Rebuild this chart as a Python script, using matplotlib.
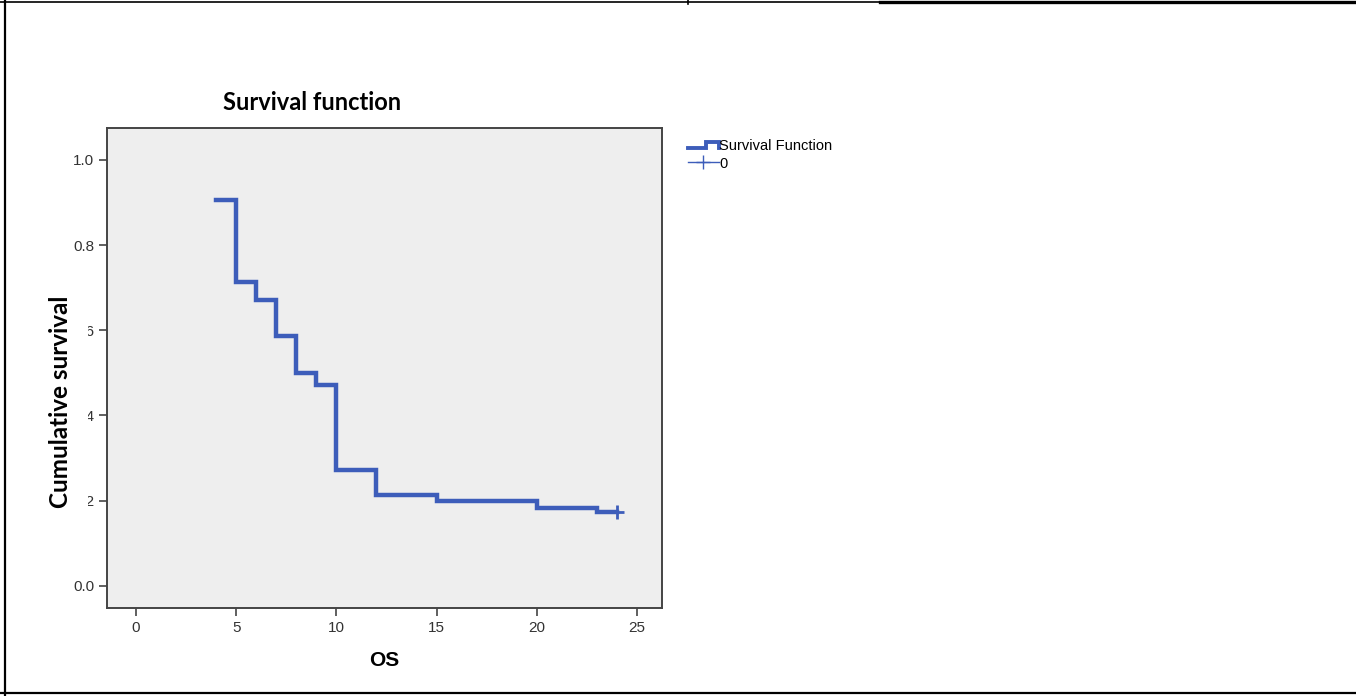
"""Kaplan-Meier style survival plot (SPSS look)."""
import matplotlib
matplotlib.use("Agg")
import matplotlib.pyplot as plt
from matplotlib.lines import Line2D
from matplotlib.legend_handler import HandlerLine2D

# step times (months) and survival after each step
times = [4, 5, 6, 7, 8, 9, 10, 12, 15, 20, 23]
survival = [0.905, 0.714, 0.671, 0.586, 0.500, 0.471, 0.271, 0.214, 0.200, 0.183, 0.174]
censor_times = [24]
x_ticks = [0, 5, 10, 15, 20, 25]
y_ticks = [0.0, 0.2, 0.4, 0.6, 0.8, 1.0]
y_tick_labels = ["0.0", "0.2", "0.4", "0.6", "0.8", "1.0"]

BLUE = "#3D5DBA"
GREY = "#444444"


class StepHandler(HandlerLine2D):
    """Legend icon drawn as a small step."""

    def create_artists(self, legend, orig_handle, xdescent, ydescent,
                       width, height, fontsize, trans):
        x0, x1 = -xdescent, -xdescent + width
        xm = x0 + width * 0.6
        y_lo = -ydescent + height * 0.2
        y_hi = -ydescent + height * 0.75
        line = Line2D([x0, xm, xm, x1, x1], [y_lo, y_lo, y_hi, y_hi, y_lo],
                      color=BLUE, lw=2.8, solid_joinstyle="miter")
        line.set_transform(trans)
        return [line]


fig = plt.figure(figsize=(13.56, 6.96), dpi=100)
W, H = 1356, 696
ax = fig.add_axes([107 / W, 1 - 608 / H, 555 / W, 480 / H])
ax.set_facecolor("#EEEEEE")

# step line; last value is carried to the censored point
xs = times + censor_times
ys = survival + [survival[-1]]
ax.step(xs, ys, where="post", color=BLUE, lw=3.2, solid_joinstyle="miter")
ax.plot(censor_times, [survival[-1]] * len(censor_times), "+", color=BLUE,
        ms=10, mew=2)

ax.set_xlim(-1.45, 26.25)
ax.set_ylim(-0.052, 1.075)
ax.set_xticks(x_ticks)
ax.set_yticks(y_ticks)
ax.set_yticklabels(y_tick_labels)
for s in ax.spines.values():
    s.set_color(GREY)
    s.set_linewidth(1.4)
ax.tick_params(axis="both", direction="out", length=6, width=1.2, color=GREY,
               labelsize=11, labelcolor="#333333", pad=3)
for lab in ax.get_xticklabels() + ax.get_yticklabels():
    lab.set_fontfamily("Liberation Sans")

ax.set_xlabel("OS", fontsize=15, fontweight="bold", family="Liberation Sans",
              labelpad=12)
fig.text(312 / W, 1 - 103 / H, "Survival function", ha="center",
         va="center", fontsize=17, fontweight="bold", family="Lato")
fig.text(61 / W, 1 - 402 / H, "Cumulative survival", rotation=90,
         ha="center", va="center", fontsize=17.5, fontweight="bold",
         family="Lato",
         bbox=dict(facecolor="white", edgecolor="none",
                   boxstyle="square,pad=0.65"))

handles = [Line2D([], [], color=BLUE, lw=2.8),
           Line2D([], [], color=BLUE, lw=1, marker="+", ms=10, mew=1)]
fig.legend(handles, ["Survival Function", "0"], loc="upper left",
           bbox_to_anchor=(685 / W, 1 - 136 / H), frameon=False,
           prop={"family": "Liberation Sans", "size": 10.5},
           handlelength=2.1, handletextpad=0.05, labelspacing=0.25,
           borderaxespad=0, borderpad=0.2,
           handler_map={handles[0]: StepHandler()})

# page frame lines
frame = dict(color="black", transform=fig.transFigure)
fig.add_artist(Line2D([0, 880 / W], [1 - 1.5 / H] * 2, lw=1.2, **frame))
fig.add_artist(Line2D([880 / W, 1], [1 - 2 / H] * 2, lw=2.4, **frame))
fig.add_artist(Line2D([688 / W] * 2, [1, 1 - 4 / H], lw=1.2, **frame))
fig.add_artist(Line2D([5 / W] * 2, [0, 1], lw=1.6, **frame))
fig.add_artist(Line2D([0, 1], [1 - 693 / H] * 2, lw=1.6, **frame))

fig.savefig("out.png", dpi=100)
